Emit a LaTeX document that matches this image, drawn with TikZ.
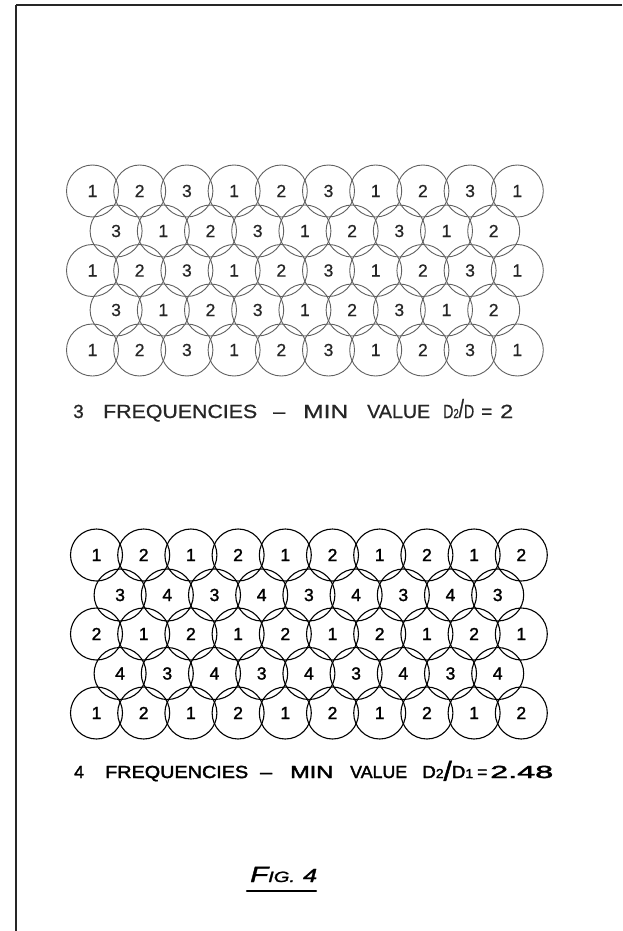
\documentclass[tikz,border=0pt]{standalone}
\usepackage{fontspec}
\usepackage{graphicx}
\setmainfont{Liberation Sans}
\newcommand\fitw[2]{\resizebox{#1pt}{\height}{#2}}
\begin{document}
\begin{tikzpicture}[x=1pt,y=-1pt,
  topc/.style={circle,draw=black!62,line width=0.9pt,minimum size=52pt,inner sep=0pt,
    text=black!85,font=\fontsize{17.5}{17.5}\selectfont\addfontfeature{FakeBold=0.6}},
  botc/.style={circle,draw=black,line width=1.1pt,minimum size=52pt,inner sep=0pt,
    text=black,font=\fontsize{17.5}{17.5}\selectfont\addfontfeature{FakeBold=1.5}},
  topw/.style={anchor=base west,inner sep=0pt,text=black!85,font=\fontsize{19}{19}\selectfont\addfontfeature{FakeBold=0.8}},
  botw/.style={anchor=base west,inner sep=0pt,text=black,font=\fontsize{17.5}{17.5}\selectfont\addfontfeature{FakeBold=2}},
  edge/.style={line width=1.4pt,draw=black!85}]
\useasboundingbox (0,0) rectangle (622,931);
\fill[white] (0,0) rectangle (622,931);
% page border
\coordinate (pc) at (16,5);
\coordinate (pr) at (622,5);
\coordinate (pb) at (16,931);
\draw[edge,line width=2pt] (pc) -- (pr);
\draw[edge] (pc) -- (pb);

% ---------- 3 frequencies ----------
\foreach \l [count=\k from 0] in {1,2,3,1,2,3,1,2,3,1}
  \node[topc] (ta\k) at (92.5+47.2*\k,191) {\l};
\foreach \l [count=\k from 0] in {3,1,2,3,1,2,3,1,2}
  \node[topc] (tb\k) at (116.1+47.2*\k,231) {\l};
\foreach \l [count=\k from 0] in {1,2,3,1,2,3,1,2,3,1}
  \node[topc] (tc\k) at (92.5+47.2*\k,270.5) {\l};
\foreach \l [count=\k from 0] in {3,1,2,3,1,2,3,1,2}
  \node[topc] (td\k) at (116.1+47.2*\k,310) {\l};
\foreach \l [count=\k from 0] in {1,2,3,1,2,3,1,2,3,1}
  \node[topc] (te\k) at (92.5+47.2*\k,350) {\l};

\node[topw] (t1) at (73,418) {3};
\node[topw] (t2) at (103,418) {\fitw{154}{FREQUENCIES}};
\node[topw] (t3) at (273,418) {\fitw{12}{–}};
\node[topw] (t4) at (303,418) {\fitw{45}{MIN}};
\node[topw] (t5) at (367,418) {\fitw{63}{VALUE}};
\node[topw] (t6) at (443,418) {\fitw{31}{D{\fontsize{13}{13}\selectfont 2}\raisebox{1pt}{\fontsize{25}{25}\selectfont /}D}};
\node[topw] (t7) at (481,418) {\fitw{11}{=}};
\node[topw] (t8) at (500,418) {\fitw{13}{2}};

% ---------- 4 frequencies ----------
\foreach \l [count=\k from 0] in {1,2,1,2,1,2,1,2,1,2}
  \node[botc] (ba\k) at (96.5+47.2*\k,555) {\l};
\foreach \l [count=\k from 0] in {3,4,3,4,3,4,3,4,3}
  \node[botc] (bb\k) at (120.1+47.2*\k,595) {\l};
\foreach \l [count=\k from 0] in {2,1,2,1,2,1,2,1,2,1}
  \node[botc] (bc\k) at (96.5+47.2*\k,634) {\l};
\foreach \l [count=\k from 0] in {4,3,4,3,4,3,4,3,4}
  \node[botc] (bd\k) at (120.1+47.2*\k,673.5) {\l};
\foreach \l [count=\k from 0] in {1,2,1,2,1,2,1,2,1,2}
  \node[botc] (be\k) at (96.5+47.2*\k,713) {\l};

\node[botw] (w1) at (74,778) {4};
\node[botw] (w2) at (105,778) {\fitw{143}{FREQUENCIES}};
\node[botw] (w3) at (260,778) {\fitw{12}{–}};
\node[botw] (w4) at (290,778) {\fitw{43}{MIN}};
\node[botw] (w5) at (350,778) {\fitw{57}{VALUE}};
\node[botw] (w6) at (422,778) {\fitw{51}{D{\fontsize{13}{13}\selectfont 2}\raisebox{-2.5pt}{\fontsize{27}{27}\selectfont /}D{\fontsize{13}{13}\selectfont 1}}};
\node[botw] (w7) at (477,778) {\fitw{10}{=}};
\node[botw] (w8) at (490,778) {\fitw{63}{2.48}};

% ---------- Fig. 4 ----------
\node[anchor=base west,inner sep=0pt,font=\itshape\addfontfeature{FakeBold=1.4}] (fig) at (250,882)
  {\fitw{67}{\fontsize{22}{22}\selectfont F\fontsize{15}{15}\selectfont IG.\hspace{6pt}\fontsize{19}{19}\selectfont 4}};
\coordinate (ul1) at (247,891);
\coordinate (ul2) at (316,891);
\draw[line width=2.4pt,line cap=round] (ul1) -- (ul2);
\end{tikzpicture}
\end{document}
